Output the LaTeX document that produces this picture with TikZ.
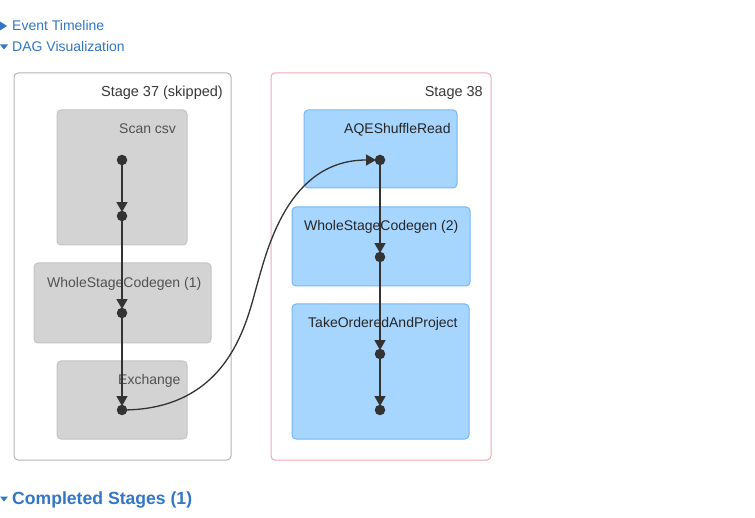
\documentclass[tikz,border=0pt]{standalone}
\usepackage{fontspec}
\setmainfont{Liberation Sans}
\usetikzlibrary{arrows.meta}
\definecolor{linkblue}{RGB}{50,118,196}
\definecolor{edgecol}{RGB}{51,51,51}
\definecolor{grayfill}{RGB}{211,211,211}
\definecolor{grayline}{RGB}{196,196,196}
\definecolor{bluefill}{RGB}{166,213,254}
\definecolor{blueline}{RGB}{118,184,242}
\definecolor{s37line}{RGB}{180,180,180}
\definecolor{s38line}{RGB}{238,168,184}
\tikzset{
  stagebox/.style={draw, line width=1pt, rounded corners=4pt, fill=white, inner sep=0pt},
  graybox/.style={draw=grayline, fill=grayfill, line width=1pt, rounded corners=4pt, inner sep=0pt},
  bluebox/.style={draw=blueline, fill=bluefill, line width=1pt, rounded corners=4pt, inner sep=0pt},
  lbl/.style={anchor=base west, inner sep=0pt, font=\fontsize{14}{16}\selectfont},
  stagelbl/.style={anchor=base east, inner sep=0pt, text=black!78, font=\fontsize{14.5}{17}\selectfont},
  link/.style={anchor=base west, inner sep=0pt, text=linkblue, font=\fontsize{14}{16}\selectfont},
  dotnode/.style={circle, fill=edgecol, inner sep=0pt, minimum size=10.5pt},
  edge/.style={draw=edgecol, line width=1.5pt, -{Triangle[length=10pt,width=11pt]}, shorten >=-1.5pt},
  tri/.style={fill=linkblue, draw=none}
}
\begin{document}
\begin{tikzpicture}[x=1pt, y=-1pt]
\useasboundingbox (0,0) rectangle (755,518);
% header links
\fill[tri] (0,21.5) -- (7,26) -- (0,30.5) -- cycle;
\node[link] (evt) at (12,31) {Event Timeline};
\fill[tri] (0,44.5) -- (8,44.5) -- (4,49.5) -- cycle;
\node[link] (dag) at (12,52) {DAG Visualization};
% stage boxes
\node[stagebox, draw=s37line, minimum width=217pt, minimum height=387pt] (s37) at (122.5,266.5) {};
\node[stagebox, draw=s38line, minimum width=220pt, minimum height=387pt] (s38) at (381,266.5) {};
\node[stagelbl] (s37l) at (223,97) {Stage 37 (skipped)};
\node[stagelbl] (s38l) at (483,96.5) {Stage 38};
% stage 37 ops
\node[graybox, minimum width=130pt, minimum height=135pt] (scan) at (122,177.5) {};
\node[graybox, minimum width=177pt, minimum height=80pt] (wsc1) at (122.5,303) {};
\node[graybox, minimum width=130pt, minimum height=78pt] (exch) at (122,400) {};
\node[lbl, text=black!68] (scanl) at (119,133.3) {Scan csv};
\node[lbl, text=black!68] (wsc1l) at (47,287.5) {WholeStageCodegen (1)};
\node[lbl, text=black!68] (exchl) at (118,384.5) {Exchange};
% stage 38 ops
\node[bluebox, minimum width=153pt, minimum height=78pt] (aqe) at (380.5,149) {};
\node[bluebox, minimum width=178pt, minimum height=79pt] (wsc2) at (381,246.5) {};
\node[bluebox, minimum width=177pt, minimum height=135pt] (top) at (380.5,371.5) {};
\node[lbl, text=black!85] (aqel) at (344,133.3) {AQEShuffleRead};
\node[lbl, text=black!85] (wsc2l) at (304,230.5) {WholeStageCodegen (2)};
\node[lbl, text=black!85] (topl) at (308,327.5) {TakeOrderedAndProject};
% dots
\node[dotnode] (d1) at (122,160) {};
\node[dotnode] (d2) at (122,216) {};
\node[dotnode] (d3) at (122,313) {};
\node[dotnode] (d4) at (122,410) {};
\node[dotnode] (a1) at (380,160) {};
\node[dotnode] (a2) at (380,257) {};
\node[dotnode] (a3) at (380,354) {};
\node[dotnode] (a4) at (380,410) {};
\coordinate (mid) at (257,285);
% edges
\draw[edge] (d1) -- (d2);
\draw[edge] (d2) -- (d3);
\draw[edge] (d3) -- (d4);
\draw[edge] (a1) -- (a2);
\draw[edge] (a2) -- (a3);
\draw[edge] (a3) -- (a4);
\draw[draw=edgecol, line width=1.3pt] (d4.center) .. controls (230,410) and (247,320) .. (mid);
\draw[edge, line width=1.3pt] (mid) .. controls (267,250) and (288,160) .. (a1);
% footer
\fill[tri] (0,496.5) -- (8,496.5) -- (4,501.5) -- cycle;
\node[anchor=base west, inner sep=0pt, text=linkblue, font=\bfseries\fontsize{17.6}{20}\selectfont] (comp) at (12,504) {Completed Stages (1)};
\end{tikzpicture}
\end{document}
